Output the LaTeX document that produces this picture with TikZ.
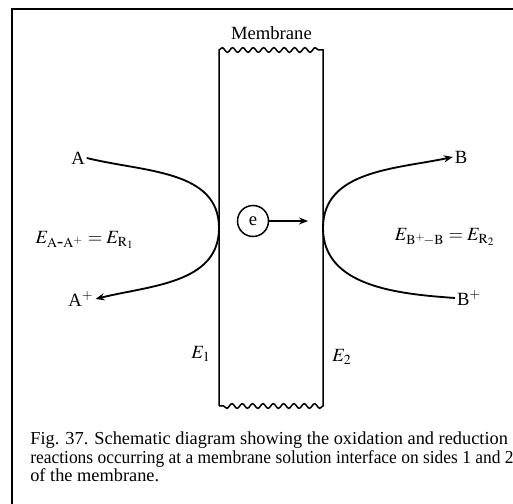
\documentclass[tikz,border=0pt]{standalone}
\usepackage{mathptmx}
\usepackage{fontspec}
\setmainfont{Liberation Serif}
\usepackage{tikz}
\usetikzlibrary{positioning,arrows.meta,decorations.pathmorphing}

\begin{document}
\begin{tikzpicture}[x=0.6pt, y=0.6pt,
  lbl/.style={inner sep=1pt, font=\fontsize{11.2}{13}\selectfont},
  flow/.style={line width=1.1pt},
  wall/.style={line width=0.9pt},
  wavy/.style={decorate, decoration={snake, amplitude=1.4pt, segment length=6.2pt}},
  >={Stealth[length=1.9mm, width=1.5mm]}]
\useasboundingbox (0,0) rectangle (513,504);
% frame (right and bottom edges fall outside the picture)
\draw[line width=1.2pt] (12,0) -- (12,495) -- (513,495);
% membrane
\coordinate (m1) at (219,98);
\coordinate (m2) at (219,454);
\coordinate (m3) at (323,454);
\coordinate (m4) at (323,98);
\draw[wall] (m1) -- (m2) decorate[wavy] {-- (m3)} -- (m4) decorate[wavy] {-- (m1)};
\node[lbl, anchor=south west] (mem) at (229,462) {Membrane};
\coordinate (t1) at (219,276);
\coordinate (t2) at (323,276);
% side 1
\node[lbl] (A) at (78,346) {A};
\node[lbl] (Ap) at (81,205) {A$^{+}$};
\node[lbl] (E1eq) at (85,264) {$E_{\mathrm{A\mbox{-}A^{+}}}=E_{\mathrm{R_{1}}}$};
\draw[flow, ->] (A.east) to[out=-14, in=90] (t1) to[out=-90, in=14] (Ap.east);
% side 2
\node[lbl] (B) at (461,347) {B};
\node[lbl] (Bp) at (469,206) {B$^{+}$};
\node[lbl] (E2eq) at (445,267) {$E_{\mathrm{B^{+}\!-B}}=E_{\mathrm{R_{2}}}$};
\draw[flow, ->] (t2) to[out=90, in=192] (B.west);
\draw[flow] (t2) to[out=-90, in=176] (Bp.west);
% electron
\node[draw, circle, line width=0.9pt, minimum size=31*0.6pt, inner sep=0pt, lbl] (e) at (253,283) {e};
\coordinate (eend) at (308,283);
\draw[line width=0.8pt, ->] (e) -- (eend);
\node[lbl] (E1) at (201,150) {$E_{1}$};
\node[lbl] (E2) at (342,147) {$E_{2}$};
% caption
\node[anchor=west, align=left, inner sep=0pt, font=\fontsize{11}{11.1}\selectfont] (cap) at (30,47)
  {Fig. 37. Schematic diagram showing the oxidation and reduction\\
   \scalebox{0.95}[1]{reactions occurring at a membrane solution interface on sides 1 and 2}\\
   of the membrane.};
\end{tikzpicture}
\end{document}
